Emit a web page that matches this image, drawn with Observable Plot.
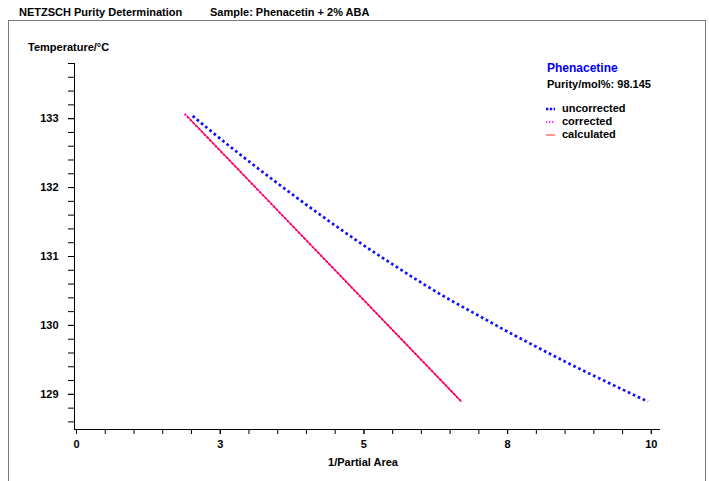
<!DOCTYPE html>
<html>
<head>
<meta charset="utf-8">
<script src="https://cdn.jsdelivr.net/npm/d3@7"></script>
<script src="https://cdn.jsdelivr.net/npm/@observablehq/plot@0.6"></script>
<style>
  html, body { margin: 0; padding: 0; background: #fff; }
  #wrap { position: relative; width: 709px; height: 481px; overflow: hidden;
          font-family: "Liberation Sans", Arial, sans-serif; font-weight: bold; font-size: 11px; color: #000; }
  #wrap svg { position: absolute; left: 0; top: 0; }
  .t { position: absolute; white-space: nowrap; line-height: 1; }
  #frame { position: absolute; left: 8px; top: 20px; width: 698px; height: 470px;
           border: 1.5px solid #7a7a7a; border-bottom: none; box-sizing: border-box; }
</style>
</head>
<body>
<div id="wrap">
  <div id="frame"></div>
</div>
<script>
// ---- data ----
const uncorrectedX = [2.02, 2.5, 3.0, 3.5, 4.0, 4.5, 5.0, 5.5, 6.0, 6.5, 7.0, 7.5, 8.0, 8.5, 9.0, 9.5, 9.94];
const uncorrectedT = [133.04, 132.71, 132.38, 132.06, 131.75, 131.45, 131.16, 130.885, 130.62, 130.37, 130.14, 129.91, 129.69, 129.475, 129.27, 129.07, 128.895];
const correctedX = [1.88, 6.69];
const correctedT = [133.07, 128.90];
const calculatedX = [1.92, 6.69];
const calculatedT = [133.04, 128.90];

const xMajorTicks = [0, 2.5, 5, 7.5, 10];
const xTickLabels = ["0", "3", "5", "8", "10"];
const xMinorTicks = [0, 0.5, 1, 1.5, 2, 2.5, 3, 3.5, 4, 4.5, 5, 5.5, 6, 6.5, 7, 7.5, 8, 8.5, 9, 9.5, 10];
const yMajorTicks = [129, 130, 131, 132, 133];
const yTickLabels = ["129", "130", "131", "132", "133"];
const yMinorTicks = [128.6, 128.8, 129, 129.2, 129.4, 129.6, 129.8, 130, 130.2, 130.4, 130.6, 130.8, 131,
  131.2, 131.4, 131.6, 131.8, 132, 132.2, 132.4, 132.6, 132.8, 133, 133.2, 133.4, 133.6, 133.8];

const xDomain = [-0.035, 10.16];
const yDomain = [128.49, 133.8];

const unc = uncorrectedX.map((x, i) => ({x, y: uncorrectedT[i]}));
const corr = correctedX.map((x, i) => ({x, y: correctedT[i]}));
const calc = calculatedX.map((x, i) => ({x, y: calculatedT[i]}));
const xLab = new Map(xMajorTicks.map((d, i) => [d, xTickLabels[i]]));
const yLab = new Map(yMajorTicks.map((d, i) => [d, yTickLabels[i]]));

const chart = Plot.plot({
  width: 709,
  height: 481,
  marginLeft: 74,
  marginRight: 49,
  marginTop: 63,
  marginBottom: 52,
  style: {fontFamily: '"Liberation Sans", Arial, sans-serif', fontWeight: "bold", fontSize: "11px", background: "transparent", color: "#000"},
  x: {domain: xDomain, axis: null},
  y: {domain: yDomain, axis: null},
  marks: [
    Plot.axisX(xMinorTicks, {anchor: "bottom", label: null, tickSize: 5, tickFormat: () => "", stroke: "#000"}),
    Plot.axisX(xMajorTicks, {anchor: "bottom", label: null, tickSize: 5, tickPadding: 6, tickFormat: d => xLab.get(d), fill: "#000", stroke: "#000"}),
    Plot.axisY(yMinorTicks, {anchor: "left", label: null, tickSize: 6, tickFormat: () => "", stroke: "#000"}),
    Plot.axisY(yMajorTicks, {anchor: "left", label: null, tickSize: 6, tickPadding: 10, tickFormat: d => yLab.get(d), fill: "#000", stroke: "#000"}),
    Plot.ruleX([xDomain[0]], {stroke: "#000", strokeWidth: 1}),
    Plot.ruleY([yDomain[0]], {stroke: "#000", strokeWidth: 1}),
    Plot.line(corr, {x: "x", y: "y", stroke: "#ff00ff", strokeWidth: 2, strokeDasharray: "2,2", strokeLinecap: "butt"}),
    Plot.line(calc, {x: "x", y: "y", stroke: "#ff0033", strokeWidth: 1.2}),
    Plot.line(unc, {x: "x", y: "y", stroke: "#1010ff", strokeWidth: 2.7, strokeDasharray: "2.7,2.8", strokeLinecap: "butt", curve: "natural"})
  ]
});
const wrap = document.getElementById("wrap");
wrap.appendChild(chart);

function addText(txt, left, top, extra) {
  const d = document.createElement("div");
  d.className = "t";
  d.textContent = txt;
  d.style.left = left + "px";
  d.style.top = top + "px";
  if (extra) Object.assign(d.style, extra);
  wrap.appendChild(d);
  return d;
}
addText("NETZSCH Purity Determination", 19, 7);
addText("Sample: Phenacetin + 2% ABA", 210, 7);
addText("Temperature/°C", 28, 42);
addText("1/Partial Area", 363, 457, {transform: "translateX(-50%)"});
addText("Phenacetine", 547, 62, {color: "#0000ff", fontSize: "12px"});
addText("Purity/mol%: 98.145", 547, 79);

const legendItems = [
  {label: "uncorrected", stroke: "#1010ff", width: 2.6, dash: "2.4,1.4"},
  {label: "corrected", stroke: "#ff00ff", width: 1.5, dash: "1.5,1.5"},
  {label: "calculated", stroke: "#ff5050", width: 1.2, dash: null}
];
legendItems.forEach((it, i) => {
  const top = 103 + i * 13;
  addText(it.label, 562, top);
  const s = document.createElementNS("http://www.w3.org/2000/svg", "svg");
  s.setAttribute("width", 12); s.setAttribute("height", 6);
  s.style.position = "absolute"; s.style.left = "546px"; s.style.top = (top + 3) + "px";
  const l = document.createElementNS("http://www.w3.org/2000/svg", "line");
  l.setAttribute("x1", 0); l.setAttribute("x2", 9); l.setAttribute("y1", 3); l.setAttribute("y2", 3);
  l.setAttribute("stroke", it.stroke); l.setAttribute("stroke-width", it.width);
  if (it.dash) l.setAttribute("stroke-dasharray", it.dash);
  s.appendChild(l);
  wrap.appendChild(s);
});
</script>
</body>
</html>
